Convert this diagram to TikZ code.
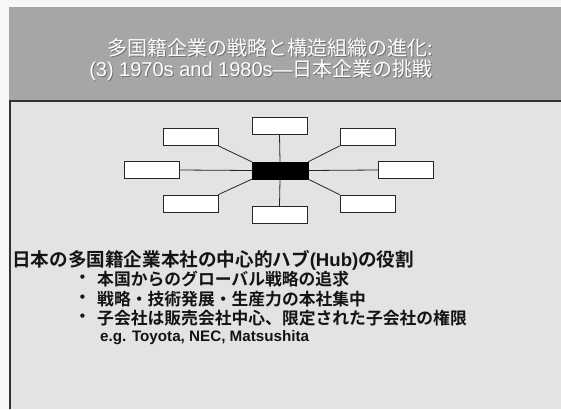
\documentclass[tikz,border=0pt]{standalone}
\usepackage{fontspec}
\setmainfont{Liberation Sans}
\newfontfamily\jp{Noto Sans CJK JP}[BoldFont={Noto Sans CJK JP Bold}]
\definecolor{headbg}{HTML}{A6A6A6}
\definecolor{bodybg}{HTML}{E3E3E3}
\definecolor{ink}{HTML}{141414}
\begin{document}
\begin{tikzpicture}[x=1pt,y=-1pt,
  box/.style={draw=black!85, line width=0.8pt, fill=white, minimum width=55pt, minimum height=17pt, inner sep=0pt},
  hub/.style={draw=black, fill=black, minimum width=56pt, minimum height=17pt, inner sep=0pt},
  link/.style={draw=black!85, line width=0.8pt},
  ttl/.style={text=white, font=\fontsize{20}{22}\selectfont, inner sep=0pt},
  ttlsh/.style={text=black!55, font=\fontsize{20}{22}\selectfont, inner sep=0pt},
  body/.style={text=ink, font=\bfseries\fontsize{16.8}{18}\selectfont, anchor=west, inner sep=0pt}]
\useasboundingbox (0,0) rectangle (561,409);
\fill[white!97!black] (0,0) rectangle (561,409);
\fill[bodybg] (10,101) rectangle (561,409);
\fill[headbg] (9,7) rectangle (561,101);
\draw[line width=1.2pt, black!80] (10,409) -- (10,101) -- (561,101);
% title
\node[ttlsh] at (271,49) {\jp 多国籍企業の戦略と構造組織の進化:};
\node[ttl] (t1) at (270,48) {\jp 多国籍企業の戦略と構造組織の進化:};
\node[ttlsh] at (262,71) {(3) 1970s and 1980s—{\jp 日本企業の挑戦}};
\node[ttl] (t2) at (261,70) {(3) 1970s and 1980s—{\jp 日本企業の挑戦}};
% hub diagram
\node[hub] (c) at (280,170.5) {};
\node[box] (n) at (279.5,126) {};
\node[box] (nw) at (190.5,137) {};
\node[box] (ne) at (367.5,137) {};
\node[box] (w) at (152,170) {};
\node[box] (e) at (406,170) {};
\node[box] (sw) at (190.5,203.5) {};
\node[box] (se) at (367.5,203.5) {};
\node[box] (s) at (279.5,215) {};
\draw[link] (n.south) -- (c.north);
\draw[link] (s.north) -- (c.south);
\draw[link] (w.east) -- (c.west);
\draw[link] (e.west) -- (c.east);
\draw[link] (nw.south east) -- (c.north west);
\draw[link] (ne.south west) -- (c.north east);
\draw[link] (sw.north east) -- (c.south west);
\draw[link] (se.north west) -- (c.south east);
% text
\node[body, font=\bfseries\fontsize{18.6}{20}\selectfont] (h) at (12,260) {\jp 日本の多国籍企業本社の中心的ハブ{\rmfamily(Hub)}の役割};
\node[body] (d1) at (74,279) {\jp ・};
\node[body] (b1) at (97,279) {\jp 本国からのグローバル戦略の追求};
\node[body] (d2) at (74,299) {\jp ・};
\node[body] (b2) at (97,299) {\jp 戦略・技術発展・生産力の本社集中};
\node[body] (d3) at (74,318) {\jp ・};
\node[body] (b3) at (97,318) {\jp 子会社は販売会社中心、限定された子会社の権限};
\node[body, font=\bfseries\fontsize{15.2}{17}\selectfont] (eg) at (100,338) {e.g. Toyota, NEC, Matsushita};
\end{tikzpicture}
\end{document}
